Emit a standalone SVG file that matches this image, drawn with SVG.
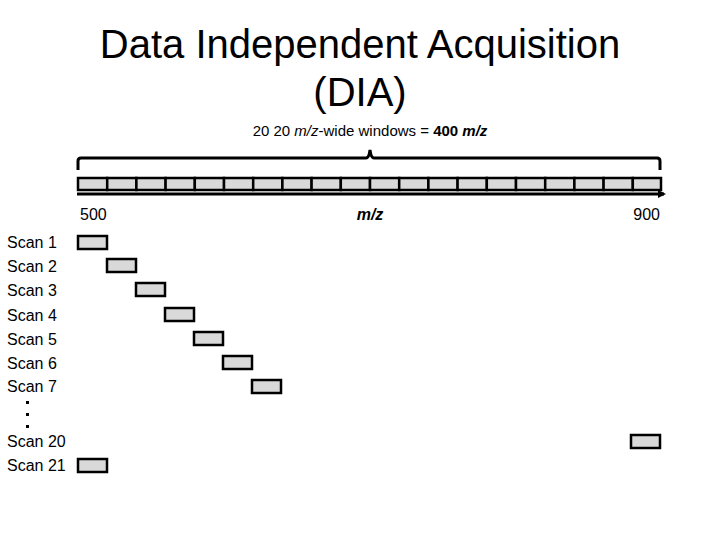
<svg xmlns="http://www.w3.org/2000/svg" width="720" height="540" viewBox="0 0 720 540">
<style>
text{font-family:"Liberation Sans",Arial,sans-serif;fill:#000}
.w{fill:#d9d9d9;stroke:#000;stroke-width:2.5}
.s{font-size:16px}
</style>
<defs><marker id="a" markerWidth="8" markerHeight="8" refX="6" refY="4" orient="auto" markerUnits="userSpaceOnUse"><path d="M0,0L8,4L0,8z"/></marker></defs>
<rect width="720" height="540" fill="#fff"/>
<g id="title"><text x="360" y="58" font-size="40" text-anchor="middle">Data Independent Acquisition</text><text x="360" y="106" font-size="40" text-anchor="middle">(DIA)</text></g>
<g id="subtitle"><text x="370" y="136" font-size="15" text-anchor="middle">20  20 <tspan font-style="italic">m/z</tspan>-wide windows = <tspan font-weight="bold">400 <tspan font-style="italic">m/z</tspan></tspan></text></g>
<g id="connectors" fill="none" stroke="#000" stroke-width="3">
<path d="M78,170V161Q78,158 81,158H366Q369,158 370,150Q371,158 374,158H657Q660,158 660,161V170"/>
<line x1="77" y1="194" x2="664" y2="194" marker-end="url(#a)"/>
</g>
<g id="windows">
<rect class="w" x="78" y="178" width="29.2" height="12"/><rect class="w" x="107.2" y="178" width="29.2" height="12"/><rect class="w" x="136.4" y="178" width="29.2" height="12"/><rect class="w" x="165.6" y="178" width="29.2" height="12"/><rect class="w" x="194.8" y="178" width="29.2" height="12"/><rect class="w" x="224" y="178" width="29.2" height="12"/><rect class="w" x="253.2" y="178" width="29.2" height="12"/><rect class="w" x="282.4" y="178" width="29.2" height="12"/><rect class="w" x="311.6" y="178" width="29.2" height="12"/><rect class="w" x="340.8" y="178" width="29.2" height="12"/><rect class="w" x="370" y="178" width="29.2" height="12"/><rect class="w" x="399.2" y="178" width="29.2" height="12"/><rect class="w" x="428.4" y="178" width="29.2" height="12"/><rect class="w" x="457.6" y="178" width="29.2" height="12"/><rect class="w" x="486.8" y="178" width="29.2" height="12"/><rect class="w" x="516" y="178" width="29.2" height="12"/><rect class="w" x="545.2" y="178" width="29.2" height="12"/><rect class="w" x="574.4" y="178" width="29.2" height="12"/><rect class="w" x="603.6" y="178" width="29.2" height="12"/><rect class="w" x="632.8" y="178" width="28.2" height="12"/>
</g>
<g id="axis-labels" font-size="16"><text x="80" y="220" class="s">500</text><text x="370" y="220" class="s" text-anchor="middle" font-weight="bold" font-style="italic">m/z</text><text x="660" y="220" class="s" text-anchor="end">900</text></g>
<g id="scans">
<text x="7" y="248" class="s">Scan 1</text><rect class="w" x="78" y="236" width="29" height="13"/>
<text x="7" y="272" class="s">Scan 2</text><rect class="w" x="107" y="259" width="29" height="13"/>
<text x="7" y="296" class="s">Scan 3</text><rect class="w" x="136" y="283" width="29" height="13"/>
<text x="7" y="321" class="s">Scan 4</text><rect class="w" x="165" y="308" width="29" height="13"/>
<text x="7" y="345" class="s">Scan 5</text><rect class="w" x="194" y="332" width="29" height="13"/>
<text x="7" y="369" class="s">Scan 6</text><rect class="w" x="223" y="356" width="29" height="13"/>
<text x="7" y="392" class="s">Scan 7</text><rect class="w" x="252" y="380" width="29" height="13"/>
<g fill="#000"><rect x="26" y="401" width="3" height="3"/><rect x="26" y="413" width="3" height="3"/><rect x="26" y="425" width="3" height="3"/></g>
<text x="7" y="447" class="s">Scan 20</text><rect class="w" x="631" y="435" width="29" height="13"/>
<text x="7" y="471" class="s">Scan 21</text><rect class="w" x="78" y="459" width="29" height="13"/>
</g>
</svg>
